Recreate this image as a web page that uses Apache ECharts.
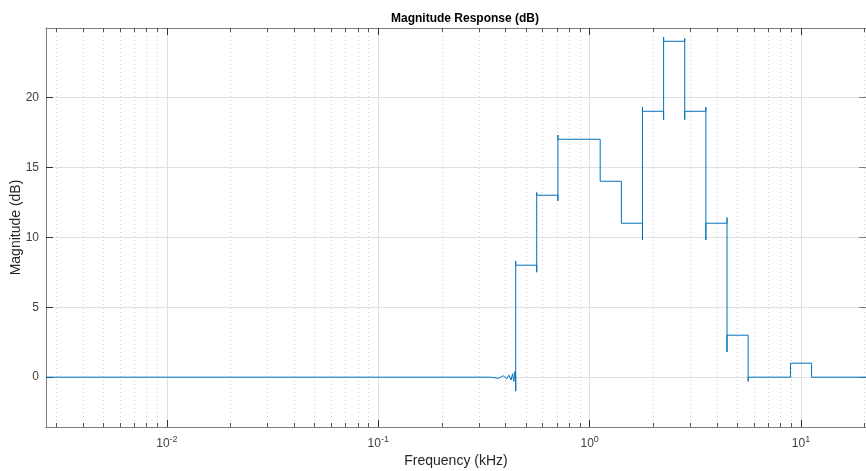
<!DOCTYPE html>
<html lang="en">
<head>
<meta charset="UTF-8">
<script src="https://cdn.jsdelivr.net/npm/echarts@6.0.0/dist/echarts.min.js"></script>
</head>
<body style="margin:0;background:#fff">
<div id="main" style="width:866px;height:471px;"></div>
<script>
  // band edges of the equaliser (kHz)
  const bandEdges = [0.447, 0.562, 0.708, 0.891, 1.122, 1.413, 1.778, 2.239, 2.818, 3.548, 4.467, 5.623, 7.079, 8.913, 11.22];
  // gain inside each band (dB), one more entry than edges
  const bandGains = [0, 8, 13, 17, 17, 14, 11, 19, 24, 19, 11, 3, 0, 0, 1, 0];
  // ringing extremes on the vertical jump, before / after each edge
  const swingBefore = [-1.0, 7.5, 12.6, 17, 17, 14, 9.8, 18.4, 24.2, 19.3, 11.4, 3.1, 0, 0, 1];
  const swingAfter = [8.3, 13.2, 17.3, 17, 14, 11, 19.3, 24.3, 18.4, 9.8, 1.8, -0.3, 0, 1, 0];
  // small ripple just below the first edge
  const rippleFreq = [0.34, 0.37, 0.39, 0.405, 0.415, 0.425, 0.432, 0.438, 0.443];
  const rippleGain = [0.0, -0.08, 0.1, -0.12, 0.15, -0.2, 0.25, -0.3, 0.4];

  const decadeTicks = [0.01, 0.1, 1, 10];
  const yTicks = [0, 5, 10, 15, 20];
  const xRange = [0.00268, 20.3];
  const yRange = [-3.56, 24.95];

  const minorTicks = [];
  for (let k = -3; k <= 1; k++) {
    for (let m = 2; m <= 9; m++) {
      const v = +(m * Math.pow(10, k)).toPrecision(6);
      if (v > xRange[0] && v < xRange[1]) minorTicks.push(v);
    }
  }

  const response = [[xRange[0], bandGains[0]]];
  rippleFreq.forEach((f, i) => response.push([f, rippleGain[i]]));
  bandEdges.forEach((e, i) => {
    response.push([e, bandGains[i]]);
    if (swingBefore[i] !== bandGains[i]) response.push([e, swingBefore[i]]);
    if (swingAfter[i] !== bandGains[i + 1]) response.push([e, swingAfter[i]]);
    response.push([e, bandGains[i + 1]]);
  });
  response.push([xRange[1], bandGains[bandGains.length - 1]]);

  const font = 'Liberation Sans';
  const axisColor = '#7f7f7f';
  const textColor = '#404040';
  const majorGrid = { color: '#e0e0e0', width: 1 };
  const minorGrid = { color: '#d2d2d2', width: 1, type: [1, 3] };

  const logBase = { type: 'log', logBase: 10, min: xRange[0], max: xRange[1], gridIndex: 0 };

  var myChart = echarts.init(document.getElementById('main'));
  myChart.setOption({
    animation: false,
    textStyle: { fontFamily: font },
    title: {
      text: 'Magnitude Response (dB)',
      left: 460, top: 8, textAlign: 'center',
      textStyle: { fontSize: 12, fontWeight: 'bold', color: '#000', fontFamily: font }
    },
    grid: { left: 46, right: 0, top: 28, bottom: 44, containLabel: false, outerBoundsMode: 'none' },
    xAxis: [
      Object.assign({}, logBase, {
        position: 'bottom',
        name: 'Frequency (kHz)', nameLocation: 'middle', nameGap: 26,
        nameTextStyle: { fontSize: 14, color: '#262626', fontFamily: font },
        axisLine: { show: true, onZero: false, lineStyle: { color: axisColor } },
        axisTick: { inside: true, length: 7, customValues: decadeTicks, lineStyle: { color: '#333' } },
        axisLabel: {
          customValues: decadeTicks, margin: 8, color: textColor,
          formatter: v => '{b|10}{s|' + Math.round(Math.log10(v)) + '}',
          rich: {
            b: { fontSize: 12, color: textColor, fontFamily: font },
            s: { fontSize: 9, color: textColor, fontFamily: font, padding: [0, 0, 8, 0] }
          }
        },
        splitLine: { show: true, lineStyle: majorGrid }
      }),
      Object.assign({}, logBase, {
        position: 'bottom',
        axisLine: { show: false, onZero: false },
        axisTick: { inside: true, length: 4, customValues: minorTicks, lineStyle: { color: '#555' } },
        axisLabel: { show: false },
        splitLine: { show: true, lineStyle: minorGrid }
      }),
      Object.assign({}, logBase, {
        position: 'top',
        axisLine: { show: true, onZero: false, lineStyle: { color: axisColor } },
        axisTick: { inside: true, length: 7, customValues: decadeTicks, lineStyle: { color: '#333' } },
        axisLabel: { show: false },
        splitLine: { show: false }
      }),
      Object.assign({}, logBase, {
        position: 'top',
        axisLine: { show: false, onZero: false },
        axisTick: { inside: true, length: 4, customValues: minorTicks, lineStyle: { color: '#555' } },
        axisLabel: { show: false },
        splitLine: { show: false }
      })
    ],
    yAxis: [
      {
        type: 'value', min: yRange[0], max: yRange[1], position: 'left',
        name: 'Magnitude (dB)', nameLocation: 'middle', nameGap: 23, nameMoveOverlap: false,
        nameTextStyle: { fontSize: 14, color: '#262626', fontFamily: font },
        axisLine: { show: true, onZero: false, lineStyle: { color: axisColor } },
        axisTick: { inside: true, length: 7, customValues: yTicks, lineStyle: { color: '#333' } },
        axisLabel: { customValues: yTicks, margin: 7, fontSize: 12, color: textColor },
        splitLine: { show: true, lineStyle: majorGrid }
      },
      {
        type: 'value', min: yRange[0], max: yRange[1], position: 'right',
        axisLine: { show: true, onZero: false, lineStyle: { color: axisColor } },
        axisTick: { inside: true, length: 7, customValues: yTicks },
        axisLabel: { show: false },
        splitLine: { show: false }
      }
    ],
    series: [{
      name: 'Magnitude',
      type: 'line',
      xAxisIndex: 0, yAxisIndex: 0,
      symbol: 'none',
      data: response,
      lineStyle: { color: '#0072BD', width: 1 }
    }]
  });
</script>
</body>
</html>
